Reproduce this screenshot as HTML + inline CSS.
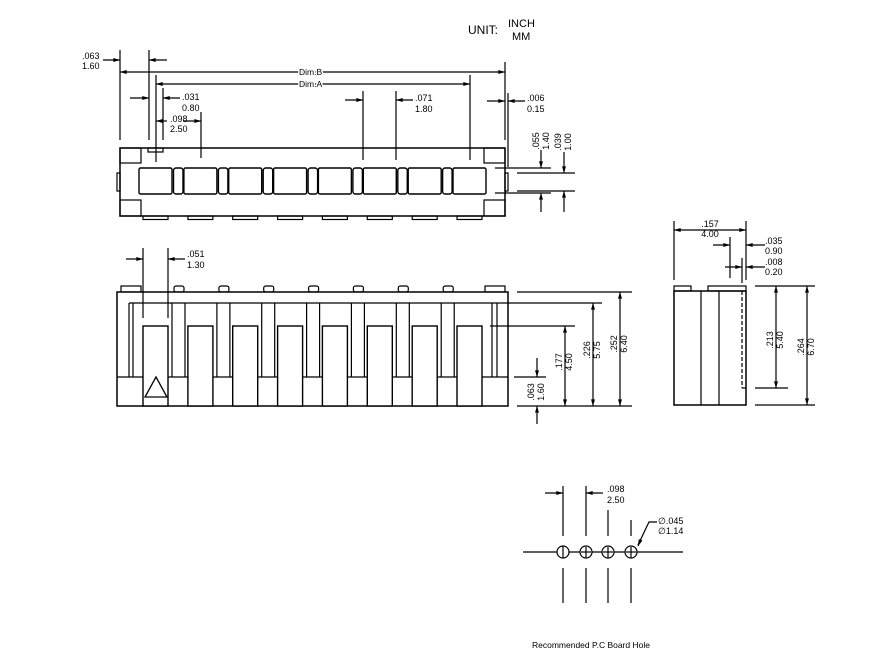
<!DOCTYPE html>
<html><head><meta charset="utf-8"><style>
html,body{margin:0;padding:0;background:#fff;}
svg{display:block;}
text{font-family:"Liberation Sans",Arial,sans-serif;font-size:9px;fill:#000;}
</style></head><body>
<svg width="872" height="658" viewBox="0 0 872 658" xmlns="http://www.w3.org/2000/svg">
<defs>
<marker id="a" viewBox="0 0 10 6" refX="10" refY="3" markerWidth="8" markerHeight="4" orient="auto" markerUnits="userSpaceOnUse"><path d="M0,0 L10,3 L0,6 z" fill="#000"/></marker>
</defs>
<g stroke="#000" stroke-width="1.2" fill="none">
<!-- ===== TOP VIEW ===== -->
<rect x="120" y="148" width="385" height="68" fill="#fff" stroke-width="1.5"/>
<rect x="120" y="148" width="21" height="15"/>
<rect x="120" y="200" width="21" height="16"/>
<rect x="484" y="148" width="21" height="15"/>
<rect x="484" y="200" width="21" height="16"/>
<rect x="148" y="148" width="15" height="4"/>
<rect x="117" y="173" width="3" height="18"/>
<rect x="505" y="173" width="3" height="18"/>
<g stroke-width="1.4">
<rect x="139" y="168" width="33" height="26" rx="1.5"/>
<rect x="183.9" y="168" width="33" height="26" rx="1.5"/>
<rect x="228.7" y="168" width="33" height="26" rx="1.5"/>
<rect x="273.6" y="168" width="33" height="26" rx="1.5"/>
<rect x="318.4" y="168" width="33" height="26" rx="1.5"/>
<rect x="363.3" y="168" width="33" height="26" rx="1.5"/>
<rect x="408.2" y="168" width="33" height="26" rx="1.5"/>
<rect x="453" y="168" width="33" height="26" rx="1.5"/>
<rect x="173.5" y="168" width="9.5" height="26" rx="2.5"/>
<rect x="218.4" y="168" width="9.5" height="26" rx="2.5"/>
<rect x="263.2" y="168" width="9.5" height="26" rx="2.5"/>
<rect x="308.1" y="168" width="9.5" height="26" rx="2.5"/>
<rect x="352.9" y="168" width="9.5" height="26" rx="2.5"/>
<rect x="397.8" y="168" width="9.5" height="26" rx="2.5"/>
<rect x="442.6" y="168" width="9.5" height="26" rx="2.5"/>
</g>
<rect x="143" y="216" width="25" height="3.5"/>
<rect x="187.9" y="216" width="25" height="3.5"/>
<rect x="232.7" y="216" width="25" height="3.5"/>
<rect x="277.6" y="216" width="25" height="3.5"/>
<rect x="322.4" y="216" width="25" height="3.5"/>
<rect x="367.3" y="216" width="25" height="3.5"/>
<rect x="412.2" y="216" width="25" height="3.5"/>
<rect x="457" y="216" width="25" height="3.5"/>
<!-- top view dims -->
<line x1="120" y1="50" x2="120" y2="140"/>
<line x1="149" y1="50" x2="149" y2="140"/>
<line x1="156" y1="75" x2="156" y2="162"/>
<line x1="163" y1="88" x2="163" y2="140"/>
<line x1="201" y1="112" x2="201" y2="158"/>
<line x1="363" y1="91" x2="363" y2="160"/>
<line x1="396" y1="91" x2="396" y2="160"/>
<line x1="470" y1="75" x2="470" y2="160"/>
<line x1="505" y1="62" x2="505" y2="140"/>
<line x1="508" y1="93" x2="508" y2="167"/>
<line x1="103" y1="60" x2="120" y2="60" marker-end="url(#a)"/>
<line x1="167" y1="60" x2="149" y2="60" marker-end="url(#a)"/>
<line x1="312" y1="72" x2="120" y2="72" marker-end="url(#a)"/>
<line x1="312" y1="72" x2="505" y2="72" marker-end="url(#a)"/>
<line x1="312" y1="84" x2="156" y2="84" marker-end="url(#a)"/>
<line x1="312" y1="84" x2="470" y2="84" marker-end="url(#a)"/>
<line x1="130" y1="98" x2="149" y2="98" marker-end="url(#a)"/>
<line x1="180" y1="98" x2="163" y2="98" marker-end="url(#a)"/>
<line x1="167" y1="121" x2="156" y2="121" marker-end="url(#a)"/>
<line x1="183" y1="121" x2="201" y2="121" marker-end="url(#a)"/>
<line x1="345" y1="100" x2="363" y2="100" marker-end="url(#a)"/>
<line x1="413" y1="100" x2="396" y2="100" marker-end="url(#a)"/>
<line x1="487" y1="101" x2="505" y2="101" marker-end="url(#a)"/>
<line x1="525" y1="101" x2="508" y2="101" marker-end="url(#a)"/>
<line x1="495" y1="168" x2="551" y2="168"/>
<line x1="495" y1="193" x2="551" y2="193"/>
<line x1="517" y1="173" x2="575" y2="173"/>
<line x1="517" y1="191" x2="575" y2="191"/>
<line x1="541" y1="150" x2="541" y2="168" marker-end="url(#a)"/>
<line x1="541" y1="212" x2="541" y2="193" marker-end="url(#a)"/>
<line x1="564" y1="152" x2="564" y2="173" marker-end="url(#a)"/>
<line x1="564" y1="212" x2="564" y2="191" marker-end="url(#a)"/>

<!-- ===== FRONT VIEW ===== -->
<rect x="121" y="286" width="20" height="6"/>
<rect x="174" y="286" width="10" height="6" rx="2"/>
<rect x="218.9" y="286" width="10" height="6" rx="2"/>
<rect x="263.7" y="286" width="10" height="6" rx="2"/>
<rect x="308.6" y="286" width="10" height="6" rx="2"/>
<rect x="353.4" y="286" width="10" height="6" rx="2"/>
<rect x="398.3" y="286" width="10" height="6" rx="2"/>
<rect x="443.2" y="286" width="10" height="6" rx="2"/>
<rect x="485" y="286" width="20" height="6"/>
<rect x="117" y="292" width="391" height="114" fill="#fff" stroke-width="1.5"/>
<line x1="129" y1="303" x2="602" y2="303"/>
<line x1="129" y1="303" x2="129" y2="377"/>
<line x1="133" y1="303" x2="133" y2="377"/>
<line x1="492" y1="303" x2="492" y2="377"/>
<line x1="497" y1="303" x2="497" y2="377"/>
<line x1="117" y1="377" x2="508" y2="377"/>
<g>
<line x1="172" y1="303" x2="172" y2="377"/><line x1="185" y1="303" x2="185" y2="377"/>
<line x1="216.9" y1="303" x2="216.9" y2="377"/><line x1="229.9" y1="303" x2="229.9" y2="377"/>
<line x1="261.7" y1="303" x2="261.7" y2="377"/><line x1="274.7" y1="303" x2="274.7" y2="377"/>
<line x1="306.6" y1="303" x2="306.6" y2="377"/><line x1="319.6" y1="303" x2="319.6" y2="377"/>
<line x1="351.4" y1="303" x2="351.4" y2="377"/><line x1="364.4" y1="303" x2="364.4" y2="377"/>
<line x1="396.3" y1="303" x2="396.3" y2="377"/><line x1="409.3" y1="303" x2="409.3" y2="377"/>
<line x1="441.2" y1="303" x2="441.2" y2="377"/><line x1="454.2" y1="303" x2="454.2" y2="377"/>
</g>
<g fill="#fff" stroke-width="1.4">
<rect x="143" y="326" width="25" height="80"/>
<rect x="187.9" y="326" width="25" height="80"/>
<rect x="232.7" y="326" width="25" height="80"/>
<rect x="277.6" y="326" width="25" height="80"/>
<rect x="322.4" y="326" width="25" height="80"/>
<rect x="367.3" y="326" width="25" height="80"/>
<rect x="412.2" y="326" width="25" height="80"/>
<rect x="457" y="326" width="25" height="80"/>
</g>
<line x1="490" y1="326" x2="575" y2="326"/>
<polygon points="145,397 167,397 156,377" stroke-width="1.3"/>
<!-- front dims -->
<line x1="143" y1="248" x2="143" y2="318"/>
<line x1="168" y1="248" x2="168" y2="318"/>
<line x1="126" y1="259" x2="143" y2="259" marker-end="url(#a)"/>
<line x1="185" y1="259" x2="168" y2="259" marker-end="url(#a)"/>
<line x1="517" y1="292" x2="632" y2="292"/>
<line x1="517" y1="406" x2="632" y2="406"/>
<line x1="514" y1="377" x2="546" y2="377"/>
<line x1="537" y1="358" x2="537" y2="377" marker-end="url(#a)"/>
<line x1="537" y1="424" x2="537" y2="406" marker-end="url(#a)"/>
<line x1="565" y1="366" x2="565" y2="326" marker-end="url(#a)"/>
<line x1="565" y1="366" x2="565" y2="406" marker-end="url(#a)"/>
<line x1="593" y1="350" x2="593" y2="303" marker-end="url(#a)"/>
<line x1="593" y1="350" x2="593" y2="406" marker-end="url(#a)"/>
<line x1="620" y1="350" x2="620" y2="292" marker-end="url(#a)"/>
<line x1="620" y1="350" x2="620" y2="406" marker-end="url(#a)"/>

<!-- ===== SIDE VIEW ===== -->
<rect x="674" y="286" width="17" height="5"/>
<rect x="708" y="286" width="38" height="5"/>
<rect x="674" y="291" width="72" height="114" stroke-width="1.5"/>
<line x1="701" y1="291" x2="701" y2="405"/>
<line x1="719" y1="291" x2="719" y2="405"/>
<line x1="742" y1="291" x2="742" y2="388" stroke-dasharray="4,2"/>
<line x1="742" y1="388" x2="746" y2="388"/>
<line x1="674" y1="221" x2="674" y2="280"/>
<line x1="746" y1="221" x2="746" y2="280"/>
<line x1="730" y1="237" x2="730" y2="278"/>
<line x1="742" y1="258" x2="742" y2="283"/>
<line x1="710" y1="230" x2="674" y2="230" marker-end="url(#a)"/>
<line x1="710" y1="230" x2="746" y2="230" marker-end="url(#a)"/>
<line x1="713" y1="245" x2="730" y2="245" marker-end="url(#a)"/>
<line x1="765" y1="245" x2="746" y2="245" marker-end="url(#a)"/>
<line x1="725" y1="267" x2="742" y2="267" marker-end="url(#a)"/>
<line x1="765" y1="267" x2="746" y2="267" marker-end="url(#a)"/>
<line x1="755" y1="286" x2="815" y2="286"/>
<line x1="755" y1="388" x2="788" y2="388"/>
<line x1="755" y1="405" x2="815" y2="405"/>
<line x1="776" y1="337" x2="776" y2="286" marker-end="url(#a)"/>
<line x1="776" y1="337" x2="776" y2="388" marker-end="url(#a)"/>
<line x1="807" y1="345" x2="807" y2="286" marker-end="url(#a)"/>
<line x1="807" y1="345" x2="807" y2="405" marker-end="url(#a)"/>

<!-- ===== PCB HOLES ===== -->
<line x1="523" y1="552" x2="683" y2="552"/>
<line x1="563" y1="486" x2="563" y2="536"/>
<line x1="586" y1="486" x2="586" y2="536"/>
<line x1="608" y1="510" x2="608" y2="536"/>
<line x1="631" y1="520" x2="631" y2="536"/>
<line x1="563" y1="568" x2="563" y2="603"/>
<line x1="586" y1="568" x2="586" y2="603"/>
<line x1="608" y1="568" x2="608" y2="603"/>
<line x1="631" y1="568" x2="631" y2="603"/>
<circle cx="563" cy="552" r="6" fill="#fff"/>
<circle cx="586" cy="552" r="6" fill="#fff"/>
<circle cx="608" cy="552" r="6" fill="#fff"/>
<circle cx="631" cy="552" r="6" fill="#fff"/>
<line x1="563" y1="546" x2="563" y2="558"/>
<line x1="586" y1="547" x2="586" y2="558"/><line x1="581" y1="552" x2="591" y2="552"/>
<line x1="608" y1="547" x2="608" y2="558"/><line x1="603" y1="552" x2="613" y2="552"/>
<line x1="631" y1="547" x2="631" y2="558"/><line x1="626" y1="552" x2="636" y2="552"/>
<line x1="545" y1="493" x2="563" y2="493" marker-end="url(#a)"/>
<line x1="603" y1="493" x2="586" y2="493" marker-end="url(#a)"/>
<polyline points="657,522 649,522 638,545"/>
<line x1="641" y1="539" x2="638" y2="546" marker-end="url(#a)"/>
</g>

<!-- TEXT -->
<text x="468" y="34" style="font-size:12px">UNIT:</text>
<text x="508" y="27" style="font-size:11px">INCH</text>
<text x="512" y="40" style="font-size:11px">MM</text>

<text x="82" y="59">.063</text><text x="82" y="69">1.60</text>
<text x="299" y="75" style="font-size:8.5px" stroke="#fff" stroke-width="3" paint-order="stroke">Dim.B</text>
<text x="299" y="87" style="font-size:8.5px" stroke="#fff" stroke-width="3" paint-order="stroke">Dim.A</text>
<text x="182" y="100">.031</text><text x="182" y="111">0.80</text>
<text x="170" y="122">.098</text><text x="170" y="132">2.50</text>
<text x="415" y="101">.071</text><text x="415" y="112">1.80</text>
<text x="527" y="101">.006</text><text x="527" y="112">0.15</text>
<text transform="translate(539,141) rotate(-90)" text-anchor="middle">.055</text>
<text transform="translate(549,141) rotate(-90)" text-anchor="middle">1.40</text>
<text transform="translate(561,142) rotate(-90)" text-anchor="middle">.039</text>
<text transform="translate(571,142) rotate(-90)" text-anchor="middle">1.00</text>

<text x="187" y="257">.051</text><text x="187" y="268">1.30</text>
<text transform="translate(534,392) rotate(-90)" text-anchor="middle">.063</text>
<text transform="translate(544,392) rotate(-90)" text-anchor="middle">1.60</text>
<text transform="translate(562,362) rotate(-90)" text-anchor="middle" stroke="#fff" stroke-width="3" paint-order="stroke">.177</text>
<text transform="translate(572,362) rotate(-90)" text-anchor="middle">4.50</text>
<text transform="translate(590,350) rotate(-90)" text-anchor="middle">.226</text>
<text transform="translate(600,350) rotate(-90)" text-anchor="middle">5.75</text>
<text transform="translate(617,344) rotate(-90)" text-anchor="middle">.252</text>
<text transform="translate(627,344) rotate(-90)" text-anchor="middle">6.40</text>

<text x="710" y="227" text-anchor="middle">.157</text><text x="710" y="237" text-anchor="middle">4.00</text>
<text x="765" y="244">.035</text><text x="765" y="254">0.90</text>
<text x="765" y="265">.008</text><text x="765" y="275">0.20</text>
<text transform="translate(773,340) rotate(-90)" text-anchor="middle">.213</text>
<text transform="translate(783,340) rotate(-90)" text-anchor="middle">5.40</text>
<text transform="translate(804,347) rotate(-90)" text-anchor="middle">.264</text>
<text transform="translate(814,347) rotate(-90)" text-anchor="middle">6.70</text>

<text x="607" y="492">.098</text><text x="607" y="503">2.50</text>
<text x="658" y="524">∅.045</text><text x="658" y="534">∅1.14</text>
<text x="532" y="648" style="font-size:8.5px">Recommended P.C Board Hole</text>
</svg>
</body></html>
